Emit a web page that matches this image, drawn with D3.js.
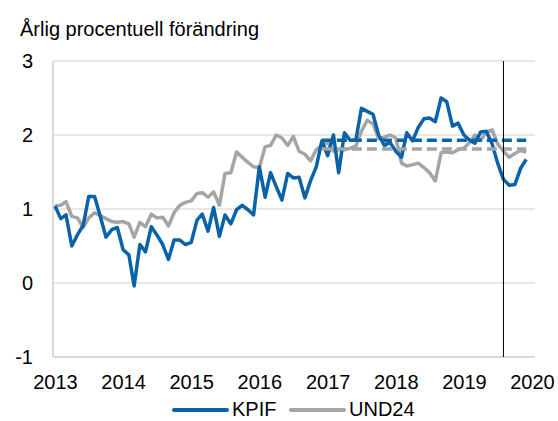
<!DOCTYPE html>
<html>
<head>
<meta charset="utf-8">
<script src="https://cdn.jsdelivr.net/npm/d3@7"></script>
<style>
  body { margin: 0; background: #fff; }
  svg text { font-family: "Liberation Sans", Arial, sans-serif; fill: #000; }
</style>
</head>
<body>
<div id="chart"></div>
<script>
// Monthly values, Jan 2013 - Dec 2019
const startMonth = new Date(2013, 0, 1);
const kpif = [
  1.04, 0.87, 0.92, 0.50, 0.65, 0.78, 1.17, 1.17, 0.90, 0.62, 0.72, 0.75,
  0.45, 0.38, -0.04, 0.52, 0.42, 0.76, 0.65, 0.52, 0.32, 0.58, 0.58, 0.52,
  0.55, 0.85, 0.93, 0.70, 1.02, 0.63, 0.92, 0.80, 0.99, 1.05, 0.99, 0.92,
  1.57, 1.16, 1.49, 1.30, 1.12, 1.48, 1.42, 1.43, 1.15, 1.38, 1.57, 1.92,
  1.72, 2.00, 1.49, 2.03, 1.93, 1.93, 2.36, 2.32, 2.28, 2.00, 1.86, 1.90,
  1.78, 1.70, 2.03, 1.92, 2.10, 2.22, 2.23, 2.18, 2.50, 2.45, 2.12, 2.16,
  2.00, 1.93, 1.89, 2.04, 2.05, 1.88, 1.62, 1.40, 1.32, 1.33, 1.55, 1.67
];
const und24 = [
  1.04, 1.05, 1.10, 0.90, 0.88, 0.75, 0.88, 0.95, 0.91, 0.87, 0.83, 0.82,
  0.83, 0.80, 0.62, 0.82, 0.76, 0.93, 0.88, 0.89, 0.77, 0.95, 1.05, 1.09,
  1.11, 1.21, 1.22, 1.16, 1.23, 1.05, 1.48, 1.49, 1.77, 1.70, 1.63, 1.57,
  1.56, 1.84, 1.86, 2.00, 1.96, 1.86, 1.98, 1.78, 1.74, 1.65, 1.80, 1.86,
  1.90, 1.78, 1.80, 1.80, 1.82, 1.85, 2.05, 2.20, 2.15, 1.95, 1.97, 2.00,
  1.96, 1.62, 1.58, 1.60, 1.62, 1.56, 1.49, 1.38, 1.76, 1.77, 1.76, 1.80,
  1.82, 1.90, 2.00, 1.93, 2.04, 2.07, 1.88, 1.78, 1.70, 1.75, 1.79, 1.77
];
// Dashed reference levels and their span
const kpifLevel = 1.93;
const und24Level = 1.81;
const levelStart = new Date(2016, 11, 1);
const levelEnd = new Date(2019, 11, 1);
// Vertical marker (last outcome)
const markerDate = new Date(2019, 7, 1);
const yearTicks = [2013, 2014, 2015, 2016, 2017, 2018, 2019, 2020];
const yTicks = [-1, 0, 1, 2, 3];
const seriesNames = ["KPIF", "UND24"];

const width = 558, height = 421;
const blue = "#0a62a8", grey = "#a5a5a5";
const fontSize = 20;

const svg = d3.select("#chart").append("svg")
  .attr("width", width)
  .attr("height", height);

const x = d3.scaleTime()
  .domain([new Date(2013, 0, 1), new Date(2020, 0, 1)])
  .range([55, 532]);
const y = d3.scaleLinear().domain([-1, 3]).range([357, 61]);

const plotLeft = 53, plotRight = 535;

// Title
svg.append("text")
  .attr("x", 20).attr("y", 36)
  .attr("font-size", fontSize)
  .text("Årlig procentuell förändring");

// Gridlines
svg.append("g").selectAll("line")
  .data(yTicks.filter(d => d > -1))
  .join("line")
  .attr("x1", plotLeft).attr("x2", plotRight)
  .attr("y1", d => y(d)).attr("y2", d => y(d))
  .attr("stroke", "#d0d0d0").attr("stroke-width", 1);

// Frame: left and bottom
svg.append("line")
  .attr("x1", plotLeft).attr("x2", plotLeft)
  .attr("y1", y(3)).attr("y2", y(-1))
  .attr("stroke", "#d9d9d9").attr("stroke-width", 2);
svg.append("line")
  .attr("x1", plotLeft).attr("x2", plotRight)
  .attr("y1", y(-1)).attr("y2", y(-1))
  .attr("stroke", "#d9d9d9").attr("stroke-width", 2);

// Axes
const yAxis = svg.append("g")
  .attr("transform", `translate(${plotLeft},0)`)
  .call(d3.axisLeft(y).tickValues(yTicks).tickSize(0).tickPadding(20).tickFormat(d => String(d)));
yAxis.select(".domain").remove();
yAxis.selectAll("text").attr("font-size", fontSize).attr("fill", "#000");

const xAxis = svg.append("g")
  .attr("transform", `translate(0,${y(-1)})`)
  .call(d3.axisBottom(x)
    .tickValues(yearTicks.map(yr => new Date(yr, 0, 1)))
    .tickSize(0).tickPadding(18)
    .tickFormat(d3.timeFormat("%Y")));
xAxis.select(".domain").remove();
xAxis.selectAll("text").attr("font-size", fontSize).attr("fill", "#000");

const monthDate = i => d3.timeMonth.offset(startMonth, i);
const line = d3.line()
  .x((d, i) => x(monthDate(i)))
  .y(d => y(d));

// Series
svg.append("path").datum(und24)
  .attr("d", line)
  .attr("fill", "none").attr("stroke", grey)
  .attr("stroke-width", 3.5).attr("stroke-linejoin", "round");
svg.append("path").datum(kpif)
  .attr("d", line)
  .attr("fill", "none").attr("stroke", blue)
  .attr("stroke-width", 3.5).attr("stroke-linejoin", "round");

// Dashed levels
[[und24Level, grey], [kpifLevel, blue]].forEach(([lv, col]) => {
  svg.append("line")
    .attr("x1", x(levelStart)).attr("x2", x(levelEnd))
    .attr("y1", y(lv)).attr("y2", y(lv))
    .attr("stroke", col).attr("stroke-width", 3.5)
    .attr("stroke-dasharray", "10,5");
});

// Vertical marker
svg.append("line")
  .attr("x1", x(markerDate)).attr("x2", x(markerDate))
  .attr("y1", y(3)).attr("y2", y(-1))
  .attr("stroke", "#000").attr("stroke-width", 1);

// Legend
const legend = svg.append("g");
const legendItems = [
  { name: seriesNames[0], color: blue, x: 174 },
  { name: seriesNames[1], color: grey, x: 291 }
];
legendItems.forEach(it => {
  legend.append("line")
    .attr("x1", it.x).attr("x2", it.x + 53)
    .attr("y1", 410).attr("y2", 410)
    .attr("stroke", it.color).attr("stroke-width", 4)
    .attr("stroke-linecap", "round");
  legend.append("text")
    .attr("x", it.x + 58).attr("y", 416)
    .attr("font-size", fontSize)
    .text(it.name);
});
</script>
</body>
</html>
